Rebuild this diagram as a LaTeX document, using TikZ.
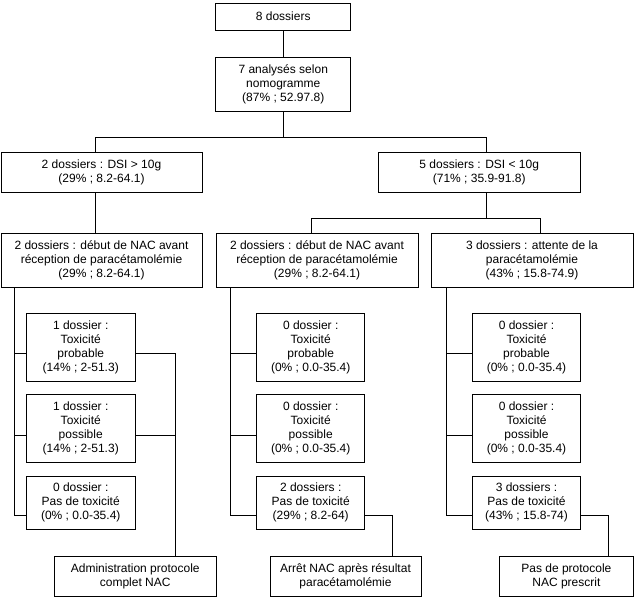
\documentclass[tikz,border=0pt]{standalone}
\usepackage{fontspec}
\setmainfont{Liberation Sans}
\usetikzlibrary{positioning}
\tikzstyle{box}=[draw,line width=1pt,align=center,inner sep=0pt,font=\fontsize{12}{14}\selectfont]
\tikzstyle{link} = [draw,line width=1pt]

\begin{document}
\begin{tikzpicture}[x=1pt,y=-1pt]

  \useasboundingbox (0,0) rectangle (636,606);

  % upper part of the tree
  \foreach \x/\y/\w/\h/\name/\label in {
      283.25/16.5/135/27/top/{8 dossiers},
      283.25/84/135/54/ana/{7 analysés selon\\nomogramme\\(87\% ; 52.97.8)},
      101.5/172/201/40/dsiA/{2 dossiers : DSI > 10g\\(29\% ; 8.2-64.1)},
      479.2/172/201.6/40/dsiB/{5 dossiers : DSI < 10g\\(71\% ; 35.9-91.8)},
      101.5/260/201/54/debA/{2 dossiers : début de NAC avant\\réception de paracétamolémie\\(29\% ; 8.2-64.1)},
      317/260/202/54/debB/{2 dossiers : début de NAC avant\\réception de paracétamolémie\\(29\% ; 8.2-64.1)},
      532/260/202/54/att/{3 dossiers : attente de la\\paracétamolémie\\(43\% ; 15.8-74.9)}}
    \node[box,minimum width=\w pt,minimum height=\h pt] (\name) at (\x,\y) {\label};

  % toxicity boxes
  \foreach \x/\y/\h/\name/\label in {
      80.75/347/68/a1/{1 dossier :\\Toxicité\\probable\\(14\% ; 2-51.3)},
      80.75/428/68/a2/{1 dossier :\\Toxicité\\possible\\(14\% ; 2-51.3)},
      80.75/502.5/53/a3/{0 dossier :\\Pas de toxicité\\(0\% ; 0.0-35.4)},
      310.7/347/68/b1/{0 dossier :\\Toxicité\\probable\\(0\% ; 0.0-35.4)},
      310.7/428/68/b2/{0 dossier :\\Toxicité\\possible\\(0\% ; 0.0-35.4)},
      310.7/502.5/53/b3/{2 dossiers :\\Pas de toxicité\\(29\% ; 8.2-64)},
      526.5/347/68/c1/{0 dossier :\\Toxicité\\probable\\(0\% ; 0.0-35.4)},
      526.5/428/68/c2/{0 dossier :\\Toxicité\\possible\\(0\% ; 0.0-35.4)},
      526.5/502.5/53/c3/{3 dossiers :\\Pas de toxicité\\(43\% ; 15.8-74)}}
    \node[box,minimum width=108.5pt,minimum height=\h pt] (\name) at (\x,\y) {\label};

  % outcome boxes
  \foreach \x/\w/\name/\label in {
      135.25/162.5/ra/{Administration protocole\\complet NAC},
      345.5/151/rb/{Arrêt NAC après résultat\\paracétamolémie},
      566.4/133.3/rc/{Pas de protocole\\NAC prescrit}}
    \node[box,minimum width=\w pt,minimum height=40pt] (\name) at (\x,576) {\label};

  % branching
  \coordinate (j1) at (283.25,137);
  \coordinate (jA) at (95,137);
  \coordinate (jB) at (486.3,137);
  \coordinate (j2) at (486.3,218);
  \coordinate (j2a) at (311.3,218);
  \coordinate (j2b) at (540.4,218);

  \path[link] (top) -- (ana);
  \path[link] (ana) -- (j1);
  \path[link] (jA) -- (jB);
  \path[link] (jA) -- (jA |- dsiA.north);
  \path[link] (jB) -- (jB |- dsiB.north);
  \path[link] (jA |- dsiA.south) -- (jA |- debA.north);
  \path[link] (j2 |- dsiB.south) -- (j2);
  \path[link] (j2a) -- (j2b);
  \path[link] (j2a) -- (j2a |- debB.north);
  \path[link] (j2b) -- (j2b |- att.north);

  % spines on the left of each column
  \foreach \col/\up/\sx in {a/debA/14, b/debB/230, c/att/446}{
    \coordinate (sp\col) at (\sx,0);
    \coordinate (t\col1) at ([yshift=-6pt]\col1.west);
    \coordinate (t\col2) at ([yshift=-7pt]\col2.west);
    \coordinate (t\col3) at ([yshift=-12.5pt]\col3.west);
    \path[link] (sp\col |- \up.south) |- (t\col3);
    \path[link] (t\col1) -- (t\col1 -| sp\col);
    \path[link] (t\col2) -- (t\col2 -| sp\col);
  }

  % to the outcomes
  \coordinate (qa) at ([xshift=40.5pt]ra.north);
  \coordinate (qb) at ([xshift=46.5pt]rb.north);
  \coordinate (qc) at ([xshift=41.6pt]rc.north);
  \path[link] ([yshift=-6pt]a1.east) -| (qa);
  \path[link] ([yshift=-7pt]a2.east) -- ([yshift=-7pt]a2.east -| qa);
  \path[link] ([yshift=-12.5pt]b3.east) -| (qb);
  \path[link] ([yshift=-12.5pt]c3.east) -| (qc);

\end{tikzpicture}
\end{document}
